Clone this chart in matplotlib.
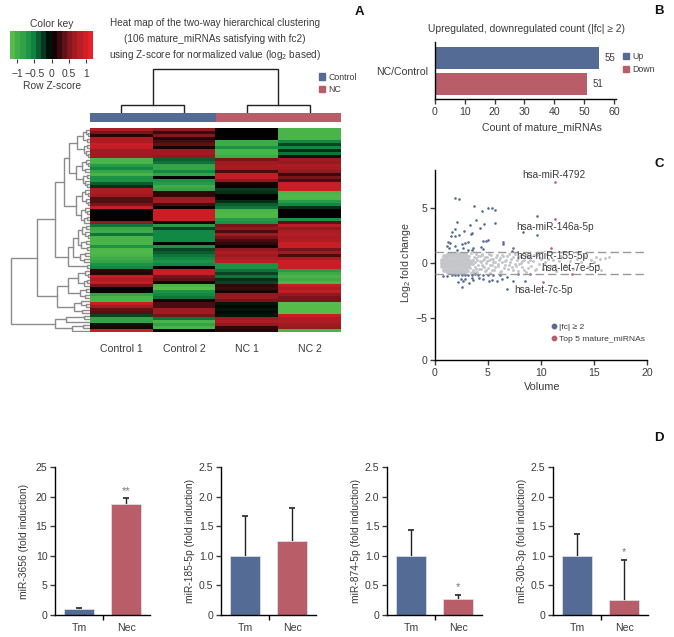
import numpy as np
import matplotlib
matplotlib.use('Agg')
import matplotlib.pyplot as plt
from matplotlib.colors import LinearSegmentedColormap, Normalize
from matplotlib.colorbar import ColorbarBase
from matplotlib.lines import Line2D
from matplotlib.patches import Patch

plt.rcParams['font.family'] = ['Liberation Sans', 'DejaVu Sans']
plt.rcParams['mathtext.default'] = 'regular'
plt.rcParams['axes.linewidth'] = 1.0

W, H = 674, 637
TXT = '#3d3a3a'
BLUE = '#536b95'
RED = '#b95d68'

# heat map rows, top to bottom
control1 = [.8, .5, .15, .8, .8, 1, .95, .7, .7, .7,
            -1.1, -1.1, -.8, -.6, -.95, -1.1, -.7, -.7, -.4, -.2,
            .8, .8, .7, .35, .35, .5, 1, .02, .02, .02,
            .02, .6, -.5, -.95, -1, -.5, -1.1, -1.1, -1.1, -.7,
            -1.15, -1.15, -1.1, -1, -.9, -.7, -.6, .2, .15, .95,
            .8, .95, .5, 0, .05, -.9, -1.1, -1.1, 1, .7,
            .4, .35, -.3, -.9, -.9, -.1, .1, 1]
control2 = [.6, .25, .55, .15, .3, .4, .1, .7, .7, .6,
            -.4, -.5, -.9, -.9, -.6, -.9, 0, -.7, -.8, -1,
            -.9, .2, .2, .7, .75, .3, .05, 1, 1, 1,
            1, .1, -.8, -.3, -.6, -.6, -.6, -.6, 0, -.7,
            -.3, -.4, -.5, -.6, -.7, -.6, 0, 1, 1, .5,
            .4, .1, -1.1, -1.2, -.7, -.6, -.5, .1, .3, .3,
            .7, .7, .5, -.5, -1.1, -.9, -1.1, 0]
nc1 = [0, .02, .02, .02, -1, -1, -.7, -1.1, -1.1, -1,
       .5, .7, .75, .75, .3, .95, .95, .6, .1, .05,
       -.25, -.2, 0, 0, -.2, -.4, -.5, -1.1, -1.15, -1.15,
       -.8, -.7, .5, .6, .3, .7, .5, .3, .2, .05,
       .6, .8, .7, .8, .9, -.7, -.7, -.5, -.3, -.5,
       -.2, -.3, .2, .25, .1, .6, .65, .5, -.1, -.05,
       -.1, -.05, -.1, .7, .8, .6, .2, .15]
nc2 = [-1.1, -1.1, -1.1, -1.1, -.6, -.3, -.6, -.2, -.5, -.1,
       .7, .65, .8, .75, .6, .25, .5, .3, 1, 1,
       1, -1.1, -1.15, -1.15, -.8, -.6, -.2, .02, .02, .02,
       -.7, .4, .9, .6, .8, .85, .8, .8, 1, 1,
       .5, .7, .3, .8, 1, 1, 1, -.8, -1, -1.1,
       -1, -1.1, .95, .8, .95, .6, .5, .5, -1.2, -1.2,
       -1.2, -1.2, 1, .8, .8, .7, .65, -1.1]
heat_cols = ['Control 1', 'Control 2', 'NC 1', 'NC 2']
key_ticks = [-1, -.5, 0, .5, 1]
key_labels = ['\u22121', '\u22120.5', '0', '0.5', '1']

# dendrograms as [height, child, child], 0 is a leaf
col_tree = [44, [8, 0, 0], [8, 0, 0]]
rows_a = [13, [7, [4, 0, [2, 0, 0]], [3, 0, 0]], [6, [3, 0, 0], [4, 0, [2, 0, 0]]]]
rows_b = [14, [8, [4, 0, [2, 0, 0]], [5, 0, 0]], [7, [3, 0, 0], [5, 0, [3, 0, 0]]]]
rows_c = [14, [8, [5, 0, [2, 0, 0]], [4, 0, [2, 0, 0]]], [9, [5, 0, [3, 0, 0]], [6, [3, 0, 0], 0]]]
rows_d = [22, [17, [12, [8, [4, 0, 0], [5, 0, [2, 0, 0]]], [9, [4, 0, 0], [3, 0, 0]]], [10, [5, 0, 0], [6, 0, 0]]], [3, 0, 0]]
rows_e = [22, [12, [5, 0, [2, 0, 0]], [6, [3, 0, 0], 0]], [10, [4, 0, 0], [5, 0, 0]]]
rows_f = [16, [9, 0, [4, 0, 0]], [8, 0, 0]]
rows_g = [35, [24, [6, 0, 0], 0], [18, [7, 0, 0], 0]]
row_tree = [79, [53, [35, [26, [21, rows_a, rows_b], rows_c], rows_d], [33, rows_e, rows_f]], rows_g]

# panel B
count_groups = ['Up', 'Down']
count_values = [55, 51]
count_ticks = [0, 10, 20, 30, 40, 50, 60]

# panel C
blue_x = [1.89, 2.23, 3.68, 4.4, 4.97, 5.38, 5.66, 9.59, 2.08, 3.84, 3.3, 4.62, 4.25, 5.66, 1.92, 2.74, 2.3, 1.57,
          1.51, 1.89, 9.59, 8.33, 3.46, 3.4, 4.56, 4.81, 5.03, 3.14, 2.83, 2.52, 1.26, 1.42, 1.16, 1.32, 1.89,
          2.61, 3.55, 4.34, 4.56, 6.38, 6.38, 7.33, 7.23, 2.11, 3.14, 3.46,
          .79, 1.1, 1.57, 1.89, 2.2, 2.52, 2.83, 3.14, 3.46, 3.77, 4.09, 4.56, 5.03, 5.5, 6.13, 6.76, 7.33, 8.46,
          6.82, 2.55, 2.2, 2.67, 3.2, 3.55, 4.15, 4.56, 5.13, 5.35, 5.82, 6.29, 2.45, 2.83, 3.46, 7.86, 8.96]
blue_y = [5.93, 5.78, 5.18, 4.67, 4.94, 4.97, 4.76, 4.25, 3.73, 3.92, 3.46, 3.52, 3.16, 3.58, 3.04, 2.92, 2.56, 2.77,
          2.41, 2.41, 2.5, 2.8, 2.71, 2.62, 1.96, 2.02, 2.11, 1.9, 1.81, 1.72, 1.87, 1.81, 1.51, 1.36, 1.51,
          1.36, 1.36, 1.42, 1.27, 1.9, 1.72, 1.36, 1.05, 1.14, 1.2, 1.2,
          -1.2, -1.2, -1.05, -1.11, -1.11, -1.05, -1.05, -1.11, -1.11, -.99, -1.11, -1.05, -1.11, -1.05, -1.11,
          -1.3, -1.6, -1.6, -2.32, -2.17, -1.69, -1.66, -1.78, -1.5, -1.36, -1.42, -1.6, -1.5, -1.6, -1.42,
          -1.42, -1.42, -1.36, -.99, -.99]
core_x = [.65, .95, 1.25, 1.55, 1.85, 2.15, 2.45, 2.75, 3.05, 3.35,
          .7, 1, 1.3, 1.6, 1.9, 2.2, 2.5, 2.8, 3.1, .7, 1, 1.3, 1.6, 1.9, 2.2, 2.5, 2.8, 3.1,
          .85, 1.15, 1.45, 1.75, 2.05, 2.35, 2.65, 2.95, .85, 1.15, 1.45, 1.75, 2.05, 2.35, 2.65, 2.95,
          1.2, 1.5, 1.8, 2.1, 2.4, 2.7, 1.2, 1.5, 1.8, 2.1, 2.4, 2.7]
core_y = [0, 0, 0, 0, 0, 0, 0, 0, 0, 0,
          .3, .3, .3, .3, .3, .3, .3, .3, .3, -.3, -.3, -.3, -.3, -.3, -.3, -.3, -.3, -.3,
          .6, .6, .6, .6, .6, .6, .6, .6, -.6, -.6, -.6, -.6, -.6, -.6, -.6, -.6,
          .85, .85, .85, .85, .85, .85, -.85, -.85, -.85, -.85, -.85, -.85]
gray_x = [2.9, 3, 3.05, 3.1, 3.2, 3.25, 3.3, 3.4, 3.45, 3.5, 3.55, 3.6, 3.7, 3.75, 3.8, 3.9, 3.95, 4, 4.1, 4.2,
          4.3, 4.35, 4.45, 4.5, 4.6, 4.7, 4.8, 4.9, 5, 5.1, 5.2, 5.3, 5.4, 5.5, 5.6, 5.7, 5.85, 5.95, 6.1, 6.2,
          6.3, 6.45, 6.6, 6.7, 6.85, 7, 7.1, 7.25, 7.4, 7.55, 7.7, 7.85, 8, 8.1, 8.25, 8.4, 8.6, 8.75, 8.9, 9.1,
          9.25, 9.4, 9.6, 9.8, 10, 10.2, 10.4, 10.6, 10.9, 11.1, 11.4, 11.7, 12, 12.3, 12.7, 13, 13.4, 13.8,
          14.1, 14.4, 14.7, 15, 15.2, 15.4, 15.6, 15.7, 16, 16.4,
          2.85, 2.95, 3.15, 3.35, 3.6, 3.65, 3.85, 3.9, 4.05, 4.15, 4.25, 4.4, 4.4, 4.55, 4.65, 4.75, 4.85, 4.95,
          5.05, 5.15, 5.25, 5.35, 5.45, 5.65, 5.75, 5.9, 6.05, 6.15, 6.35, 6.5, 6.65, 6.8, 6.95, 7.15, 7.35, 7.5,
          7.65, 7.8, 7.95, 8.2, 8.35, 8.55, 8.8, 9, 9.3, 9.55, 9.9, 10.3, 10.7, 11.3, 11.9, 12.5]
gray_y = [.8, .4, -.2, -.7, .15, .6, -.45, .9, -.85, .3, -.1, -.6, .55, .05, -.35, .8, -.8, .25, -.15, .6,
          -.55, .1, .85, -.3, .4, -.75, 0, .55, -.45, .25, -.9, .7, -.15, .35, -.6, .1, .75, -.3, .45, -.7,
          .05, .6, -.2, .3, -.55, .8, .1, -.35, .5, -.1, .25, -.7, .65, 0, -.4, .3, -.8, .1, .55, -.25,
          .2, -.6, .7, -.05, .35, -.5, .1, .8, -.3, .3, -.7, .15, .5, -.2, .2, -.55, .35, .05,
          .6, -.35, .3, .1, .55, -.15, .35, -.6, .45, .5,
          .1, -.5, .65, -.9, .3, -.85, -.55, .45, .65, -.5, .2, -.15, .7, .3, -.35, .5, -.6, .15,
          .8, -.2, .4, -.65, .05, -.4, .55, -.1, .3, -.85, .7, -.45, .15, .6, -.15, .4, -.6, .8,
          -.3, .45, -.05, .15, -.65, .7, -.45, .25, .75, -.5, .45, -.1, .4, -.15, .6, -.45]
top_x = [11.32, 11.32, 10.94, 10.22, 12.9]
top_y = [7.29, 3.98, 1.33, -1.69, -.99]
top_names = ['hsa-miR-4792', 'hsa-miR-146a-5p', 'hsa-miR-155-5p', 'hsa-let-7e-5p', 'hsa-let-7c-5p']
name_x = [11.2, 11.3, 11.04, 12.83, 10.19]
name_y = [7.96, 3.26, .63, -.45, -2.44]
volcano_yticks = [-8.78, -5, 0, 5]
volcano_ylabels = ['0', '\u22125', '0', '5']

# panel D
groups = ['Tm', 'Nec']
mirnas = ['miR-3656', 'miR-185-5p', 'miR-874-5p', 'miR-30b-3p']
bar_means = [[1, 18.8], [1, 1.25], [1, .27], [1, .25]]
bar_errs = [[.2, .9], [.67, .55], [.43, .07], [.36, .68]]
bar_stars = ['**', '', '*', '*']
ymaxes = [25, 2.5, 2.5, 2.5]
yticks = [[0, 5, 10, 15, 20, 25], [0, .5, 1, 1.5, 2, 2.5], [0, .5, 1, 1.5, 2, 2.5], [0, .5, 1, 1.5, 2, 2.5]]
ylabs = [['0', '5', '10', '15', '20', '25']] + [['0', '0.5', '1.0', '1.5', '2.0', '2.5']] * 3


def box(x0, y0, x1, y1):
    return fig.add_axes([x0 / W, 1 - y1 / H, (x1 - x0) / W, (y1 - y0) / H])


def label(x, y, s, size=7.4, **kw):
    kw.setdefault('color', TXT)
    fig.text(x / W, 1 - y / H, s, ha=kw.pop('ha', 'center'), va='center', fontsize=size, **kw)


def tree(ax, node, leaf, flip):
    # returns position and height of a node, leaves numbered from the top/left
    if node == 0:
        leaf[0] += 1
        return leaf[0] - 1, 0
    h = node[0]
    p1, h1 = tree(ax, node[1], leaf, flip)
    p2, h2 = tree(ax, node[2], leaf, flip)
    a, b = [h1, h, h, h2], [p1, p1, p2, p2]
    if flip:
        ax.plot(a, b, color='#8c8c8c', lw=1.0, solid_joinstyle='miter')
    else:
        ax.plot(b, a, color='#222222', lw=1.0, solid_joinstyle='miter')
    return (p1 + p2) / 2, h


def clean(ax):
    ax.spines[['top', 'right']].set_visible(False)
    ax.patch.set_alpha(0)
    ax.tick_params(colors=TXT, labelsize=7.6, length=3.5, width=1, pad=2)


def small_legend(handles, x, y):
    fig.legend(handles=handles, loc='upper left', bbox_to_anchor=(x / W, 1 - y / H), frameon=False, fontsize=6.3,
               handlelength=.7, handleheight=.7, handletextpad=.35, labelspacing=.45, borderpad=0, borderaxespad=0,
               labelcolor=TXT)


fig = plt.figure(figsize=(W / 100, H / 100), dpi=100)

# ---- A
cmap = LinearSegmentedColormap.from_list('gbr', [(0, '#55bb4a'), (.25, '#128a46'), (.5, '#000000'),
                                                 (.75, '#8f1a20'), (1, '#e8202a')])
norm = Normalize(-1.2, 1.2)

ax = box(90, 128, 341, 332)
ax.imshow(np.column_stack([control1, control2, nc1, nc2]), cmap=cmap, norm=norm, aspect='auto', interpolation='nearest')
ax.set_xticks(range(4), heat_cols)
ax.tick_params(length=0, labelsize=7.6, labelcolor=TXT, pad=9)
ax.set_yticks([])
for s in ax.spines.values():
    s.set_visible(False)

ax = box(90, 112.5, 341, 122)
ax.barh([0, 0], [2, 2], left=[0, 2], height=1, color=[BLUE, RED])
ax.set_xlim(0, 4)
ax.set_ylim(-.5, .5)
ax.axis('off')

ax = box(90, 68, 341, 112.5)
tree(ax, col_tree, [0], False)
ax.set_xlim(-.5, 3.5)
ax.set_ylim(0, 44.5)
ax.axis('off')

ax = box(0, 128, 90, 332)
tree(ax, row_tree, [0], True)
ax.set_xlim(90, 0)
ax.set_ylim(67.5, -.5)
ax.axis('off')

cax = box(10, 31, 93, 59)
cb = ColorbarBase(cax, cmap=cmap.resampled(16), norm=norm, orientation='horizontal', ticks=key_ticks)
cb.set_ticklabels(key_labels)
cb.outline.set_visible(False)
cax.tick_params(labelsize=7.4, length=3, width=.8, colors=TXT, pad=4)
label(52, 24, 'Color key', 7.4)
label(52, 86, 'Row Z-score', 7.4)
label(215, 23, 'Heat map of the two-way hierarchical clustering', 7.2)
label(215, 39, '(106 mature_miRNAs satisfying with fc2)', 7.2)
label(215, 55, 'using Z-score for normalized value (log$_2$ based)', 7.2)
small_legend([Patch(color=BLUE, label='Control'), Patch(color=RED, label='NC')], 319, 72.5)

# ---- B
ax = box(435, 42, 616, 99)
clean(ax)
pos = [1, 0]
ax.barh(pos, count_values, height=.85, color=[BLUE, RED])
for p, v in zip(pos, count_values):
    ax.text(v + 1.7, p, str(v), va='center', color=TXT, fontsize=7)
ax.set_xlim(0, 60.7)
ax.set_ylim(-.577, 1.615)
ax.set_xticks(count_ticks)
ax.set_yticks([.5], ['NC/Control'])
ax.tick_params(axis='y', length=0, pad=5)
label(527, 29, 'Upregulated, downregulated count (|fc| \u2265 2)', 7.4)
label(542, 127, 'Count of mature_miRNAs', 7.6)
small_legend([Patch(color=BLUE, label=count_groups[0]), Patch(color=RED, label=count_groups[1])], 623, 52)

# ---- C
ax = box(435, 170, 647, 360)
clean(ax)
ax.scatter(core_x, core_y, s=12, color='#c4c6c9', lw=0, zorder=2)
ax.scatter(gray_x, gray_y, s=4.5, color='#c4c6c9', lw=0, zorder=2)
ax.scatter(blue_x, blue_y, s=3.5, color=BLUE, lw=0, zorder=3)
ax.scatter(top_x, top_y, s=3.5, color=RED, lw=0, zorder=3)
for y in [1, -1]:
    ax.axhline(y, color='#999999', lw=1, dashes=(6, 3), zorder=4)
for s, x, y in zip(top_names, name_x, name_y):
    ax.text(x, y, s, ha='center', va='center', fontsize=7.2, color=TXT, zorder=5)
ax.set_xlim(0, 20)
ax.set_ylim(-8.78, 8.42)
ax.set_xticks([0, 5, 10, 15, 20])
ax.set_yticks(volcano_yticks, volcano_ylabels)
label(542, 387, 'Volume', 7.8)
label(406, 263, 'Log$_2$ fold change', 7.6, rotation=90)
fig.legend(handles=[Line2D([], [], ls='', marker='o', ms=3.2, color=BLUE, label='|fc| \u2265 2'),
                    Line2D([], [], ls='', marker='o', ms=3.2, color=RED, label='Top 5 mature_miRNAs')],
           loc='upper left', bbox_to_anchor=(551 / W, 1 - 323.5 / H), frameon=False, fontsize=6.1, handlelength=.8,
           handletextpad=.2, labelspacing=.45, borderpad=0, borderaxespad=0, labelcolor=TXT)

# ---- D
lefts = [55, 221, 387, 553]
for i in range(4):
    ax = box(lefts[i], 467, lefts[i] + 95, 615)
    clean(ax)
    ax.bar([0, 1], bar_means[i], width=.634, color=[BLUE, RED], edgecolor='#e3e6ee', lw=.5, zorder=2)
    eb = ax.errorbar([0, 1], bar_means[i], yerr=[[0, 0], bar_errs[i]], fmt='none', ecolor='#222222', elinewidth=1,
                     capsize=2.2, capthick=1.2, zorder=1)
    eb[1][0].set_visible(False)
    if bar_stars[i]:
        ax.text(1, bar_means[i][1] + bar_errs[i][1] + ymaxes[i] * .05, bar_stars[i], ha='center', va='center',
                fontsize=8, color='#777777')
    ax.set_xlim(-.507, 1.5)
    ax.set_ylim(0, ymaxes[i])
    ax.set_xticks([0, 1], groups)
    ax.set_xticks([.5], minor=True)
    ax.tick_params(axis='x', which='major', length=0, pad=6)
    ax.tick_params(axis='x', which='minor', length=3.5, width=1, direction='out')
    ax.set_yticks(yticks[i], ylabs[i])
    label(lefts[i] - 31, 541, mirnas[i] + ' (fold induction)', 7.4, rotation=90)

for s, x, y in [('A', 359, 12), ('B', 659, 11), ('C', 659, 164), ('D', 659, 438)]:
    label(x, y, s, 9.5, color='#111111', fontweight='bold')

fig.savefig('out.png', dpi=100)
